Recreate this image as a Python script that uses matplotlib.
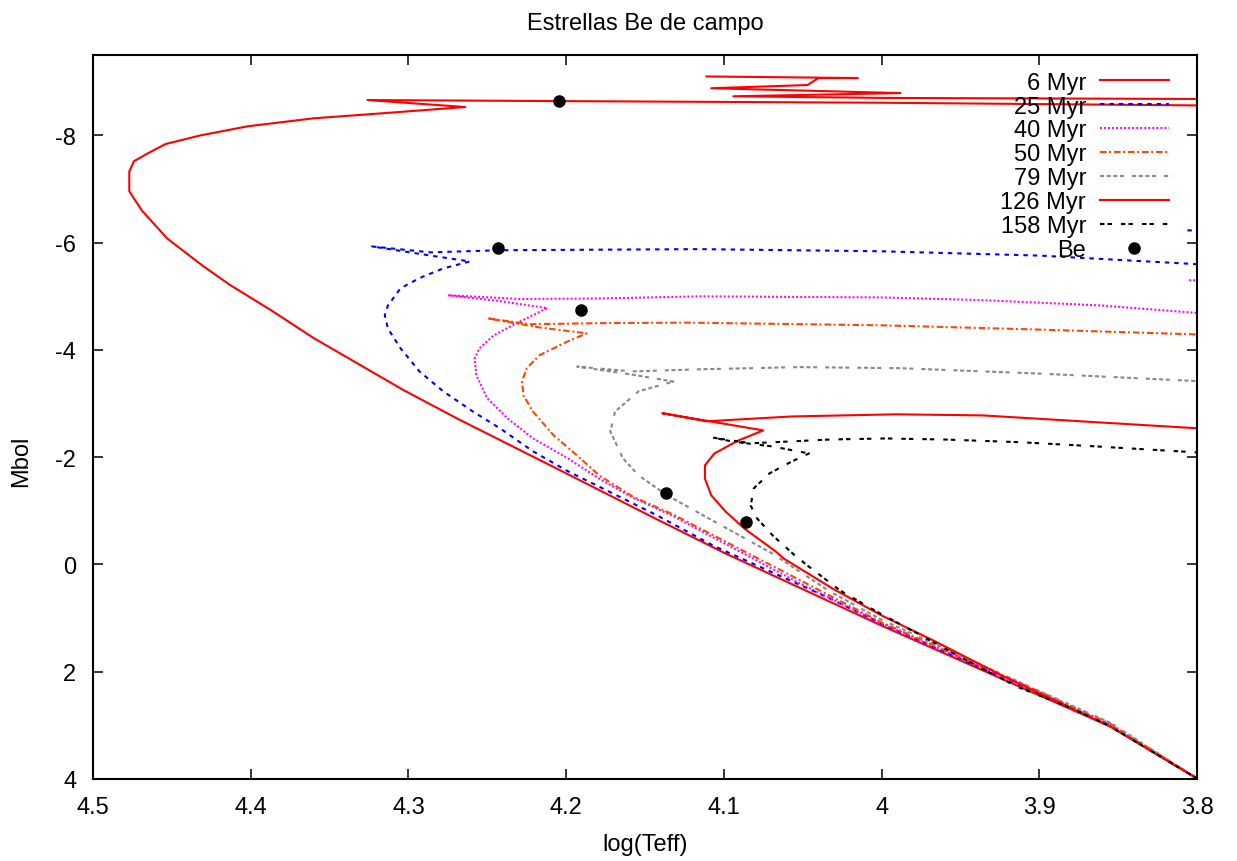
import matplotlib
matplotlib.use("Agg")
import matplotlib.pyplot as plt
from matplotlib.ticker import FixedLocator, FuncFormatter

plt.rcParams['font.family'] = ['Liberation Sans', 'DejaVu Sans']
plt.rcParams['lines.scale_dashes'] = False

# ---------------- data (log Teff, Mbol) ----------------
t6 = [3.800, 3.855, 3.900, 4.000, 4.100, 4.145, 4.200, 4.269, 4.303, 4.360, 4.386, 4.413,
      4.430, 4.453, 4.469, 4.477, 4.477, 4.474, 4.465, 4.454, 4.432, 4.402, 4.360, 4.318,
      4.264, 4.326, 4.200, 4.000, 3.800, 3.750, 3.800, 4.000, 4.094, 3.988, 4.108, 4.047,
      4.040, 4.015, 4.111]
m6 = [3.99, 3.02, 2.44, 1.14, -0.22, -0.88, -1.70, -2.72, -3.25, -4.22, -4.72, -5.21,
      -5.56, -6.08, -6.60, -6.96, -7.33, -7.52, -7.67, -7.84, -8.00, -8.17, -8.32, -8.41,
      -8.53, -8.66, -8.64, -8.61, -8.56, -8.62, -8.68, -8.70, -8.73, -8.79, -8.88, -8.94,
      -9.07, -9.07, -9.10]

t25 = [3.800, 3.855, 3.900, 3.999, 4.033, 4.106, 4.142, 4.179, 4.199, 4.221, 4.242, 4.259,
       4.278, 4.293, 4.305, 4.313, 4.315, 4.313, 4.305, 4.293, 4.278, 4.261, 4.286, 4.323,
       4.286, 4.242, 4.115, 4.000, 3.900, 3.800, 3.750, 3.800, 3.809]
m25 = [3.99, 3.00, 2.41, 1.12, 0.63, -0.34, -0.91, -1.45, -1.74, -2.11, -2.54, -2.85,
       -3.23, -3.60, -4.03, -4.40, -4.65, -4.83, -5.15, -5.34, -5.52, -5.65, -5.76, -5.93,
       -5.82, -5.86, -5.88, -5.84, -5.76, -5.60, -5.90, -6.23, -6.23]

t40 = [3.800, 3.855, 3.900, 4.000, 4.052, 4.132, 4.158, 4.179, 4.199, 4.221, 4.237, 4.250,
       4.257, 4.258, 4.255, 4.246, 4.234, 4.221, 4.212, 4.242, 4.275, 4.229, 4.179, 4.115,
       4.000, 3.937, 3.861, 3.800, 3.750, 3.800, 3.806]
m40 = [3.99, 2.99, 2.39, 1.10, 0.35, -0.90, -1.25, -1.60, -1.98, -2.35, -2.72, -3.10,
       -3.53, -3.84, -4.03, -4.27, -4.46, -4.65, -4.78, -4.91, -5.02, -4.95, -4.96, -5.00,
       -4.98, -4.93, -4.83, -4.69, -4.90, -5.30, -5.30]

t50 = [3.800, 3.855, 3.900, 4.000, 4.132, 4.158, 4.179, 4.193, 4.208, 4.221, 4.227, 4.228,
       4.225, 4.217, 4.199, 4.187, 4.217, 4.250, 4.223, 4.179, 4.124, 4.000, 3.900, 3.800]
m50 = [3.99, 2.97, 2.37, 1.08, -0.93, -1.27, -1.66, -2.03, -2.41, -2.85, -3.15, -3.41,
       -3.66, -3.90, -4.16, -4.31, -4.42, -4.59, -4.48, -4.50, -4.51, -4.46, -4.38, -4.29]

t79 = [3.800, 3.855, 3.900, 4.000, 4.033, 4.069, 4.106, 4.136, 4.154, 4.164, 4.172,
       4.169, 4.154, 4.132, 4.158, 4.193, 4.158, 4.115, 4.052, 3.988, 3.900, 3.800]
m79 = [3.99, 2.95, 2.36, 1.03, 0.50, -0.20, -0.80, -1.29, -1.66, -1.98, -2.48,
       -2.85, -3.23, -3.41, -3.54, -3.69, -3.60, -3.64, -3.68, -3.66, -3.56, -3.42]

t126 = [3.800, 3.855, 3.900, 3.925, 3.967, 4.000, 4.031, 4.062, 4.067, 4.087, 4.099, 4.108,
        4.112, 4.112, 4.106, 4.091, 4.075, 4.139, 4.111, 4.057, 3.991, 3.936, 3.800]
m126 = [3.99, 3.02, 2.40, 2.05, 1.42, 0.95, 0.45, -0.11, -0.24, -0.67, -0.99, -1.29,
        -1.60, -1.85, -2.07, -2.31, -2.50, -2.82, -2.67, -2.76, -2.80, -2.78, -2.54]

t158 = [3.800, 3.855, 3.882, 3.914, 3.946, 3.977, 4.003, 4.026, 4.047, 4.055, 4.069, 4.079,
        4.083, 4.081, 4.071, 4.057, 4.046, 4.069, 4.094, 4.108, 4.083, 4.061, 4.033, 3.997,
        3.960, 3.912, 3.863, 3.800]
m158 = [3.99, 3.02, 2.65, 2.28, 1.79, 1.29, 0.88, 0.49, 0.02, -0.17, -0.54, -0.86,
        -1.10, -1.42, -1.70, -1.92, -2.07, -2.20, -2.29, -2.37, -2.26, -2.29, -2.33, -2.35,
        -2.33, -2.28, -2.20, -2.09]

be_t = [4.2045, 4.2434, 4.1906, 4.1368, 4.0862]
be_m = [-8.64, -5.90, -4.74, -1.34, -0.80]

labels = ["6 Myr", "25 Myr", "40 Myr", "50 Myr", "79 Myr", "126 Myr", "158 Myr", "Be"]
xticks = [4.5, 4.4, 4.3, 4.2, 4.1, 4.0, 3.9, 3.8]
yticks = [-8, -6, -4, -2, 0, 2, 4]

# ---------------- figure ----------------
fig = plt.figure(figsize=(12.37, 8.62), dpi=100)
ax = fig.add_axes([93/1237, 82/862, 1104/1237, 724/862])

lw = 1.5
ax.plot(t6, m6, color='#ff0000', lw=lw, label=labels[0])
ax.plot(t25, m25, color='#0000ff', lw=lw, dashes=(3.2, 3.6), label=labels[1])
ax.plot(t40, m40, color='#ff00ff', lw=lw, dashes=(1.4, 1.5), label=labels[2])
ax.plot(t50, m50, color='#ff4500', lw=lw, dashes=(4.7, 1.8, 1.4, 2.2), label=labels[3])
ax.plot(t79, m79, color='#888888', lw=lw,
        dashes=(2.9, 1.9, 2.9, 1.9, 2.9, 1.9, 2.9, 5.8), label=labels[4])
ax.plot(t126, m126, color='#ff0000', lw=lw, label=labels[5])
ax.plot(t158, m158, color='#000000', lw=lw, dashes=(3.2, 2.2, 3.2, 6.5), label=labels[6])
ax.plot(be_t, be_m, 'o', color='black', ms=8, label=labels[7])

ax.set_xlim(4.5, 3.8)
ax.set_ylim(4, -9.5)

fs = 17
ax.xaxis.set_major_locator(FixedLocator(xticks))
ax.yaxis.set_major_locator(FixedLocator(yticks))
fmt = FuncFormatter(lambda v, p: '%g' % round(v, 3))
ax.xaxis.set_major_formatter(fmt)
ax.yaxis.set_major_formatter(fmt)
ax.tick_params(which='both', direction='in', top=True, right=True, length=7.5, width=1.1,
               labelsize=fs, pad=12)
for s in ax.spines.values():
    s.set_linewidth(1.5)

ax.set_title("Estrellas Be de campo", fontsize=fs, pad=19)
ax.set_xlabel("log(Teff)", fontsize=fs, labelpad=11)
ax.set_ylabel("Mbol", fontsize=fs)
ax.yaxis.set_label_coords(-0.055, 0.44)

leg = ax.legend(loc='upper right', bbox_to_anchor=(0.9746, 0.977), frameon=False,
                markerfirst=False, fontsize=fs, handlelength=2.92, handletextpad=0.59,
                labelspacing=0.08, borderpad=0, borderaxespad=0, numpoints=1)
for t in leg.get_texts():
    t.set_ha('right')

fig.savefig("out.png", dpi=100)
